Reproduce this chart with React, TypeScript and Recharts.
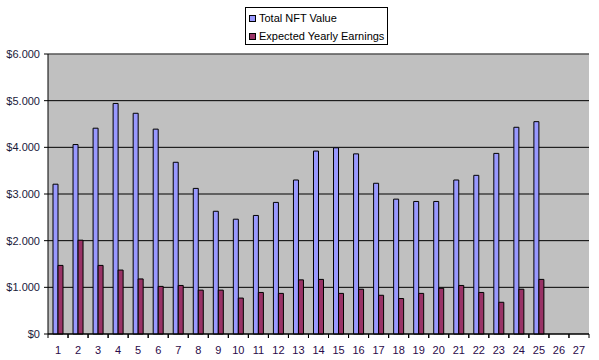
import React from "react";
import {
  BarChart,
  Bar,
  XAxis,
  YAxis,
  CartesianGrid,
  Legend,
  ReferenceLine,
} from "recharts";

const periods = ["1", "2", "3", "4", "5", "6", "7", "8", "9", "10", "11", "12", "13", "14", "15", "16", "17", "18", "19", "20", "21", "22", "23", "24", "25", "26", "27"];
const totalNftValue = [3210, 4060, 4410, 4940, 4730, 4390, 3680, 3120, 2630, 2460, 2540, 2820, 3300, 3920, 3990, 3860, 3230, 2890, 2840, 2840, 3300, 3400, 3870, 4430, 4550, null, null];
const expectedEarnings = [1470, 2010, 1470, 1370, 1180, 1020, 1040, 940, 940, 770, 890, 870, 1160, 1170, 870, 960, 830, 760, 870, 980, 1040, 890, 680, 960, 1170, null, null];
const yTicks = [0, 1000, 2000, 3000, 4000, 5000, 6000];

const data = periods.map((p, i) => ({
  period: p,
  total: totalNftValue[i],
  earnings: expectedEarnings[i],
}));

const W = 599;
const H = 360;
const LEGEND_H = 38;
// legend sits on top, recharts adds its height to the top offset
const M = { top: 54 - LEGEND_H, right: 10, bottom: 0, left: 0 };
const Y_W = 48;
const X_H = 26;
const band = (W - M.left - M.right - Y_W) / periods.length;
const font = "'Liberation Sans', Arial, sans-serif";

const money = (v: number) => (v === 0 ? "$0" : "$" + v.toLocaleString("de-DE"));

function XTick(props: any) {
  const { x, payload } = props;
  const axisY = H - X_H;
  return (
    <g>
      <line x1={x - band / 2} x2={x - band / 2} y1={axisY} y2={axisY + 4} stroke="#000" />
      <line x1={x + band / 2} x2={x + band / 2} y1={axisY} y2={axisY + 4} stroke="#000" />
      <text x={x} y={axisY + 20} textAnchor="middle" fontSize={11} fontFamily={font} fill="#2a0a4a">
        {payload.value}
      </text>
    </g>
  );
}

function LegendBox() {
  const items = [
    { label: "Total NFT Value", color: "#9999FF" },
    { label: "Expected Yearly Earnings", color: "#993366" },
  ];
  return (
    <div
      style={{
        border: "1px solid #000",
        background: "#fff",
        width: 141,
        height: LEGEND_H - 2,
        boxSizing: "content-box",
        fontFamily: font,
        fontSize: 11,
        color: "#000",
      }}
    >
      {items.map((it, i) => (
        <div key={it.label} style={{ display: "flex", alignItems: "center", height: 18, paddingLeft: 3, marginTop: i === 0 ? 1 : 0 }}>
          <span style={{ width: 5, height: 5, border: "1px solid #000", background: it.color, marginRight: 3, display: "inline-block" }} />
          <span>{it.label}</span>
        </div>
      ))}
    </div>
  );
}

export default function App() {
  return (
    <div style={{ position: "absolute", left: 0, top: 0, background: "#fff" }}>
      <BarChart width={W} height={H} data={data} margin={M} barCategoryGap="25%" barGap={0}>
        <CartesianGrid vertical={false} stroke="#000" fill="#C0C0C0" fillOpacity={1} />
        <XAxis
          dataKey="period"
          height={X_H}
          interval={0}
          tickLine={false}
          axisLine={{ stroke: "#000" }}
          tick={<XTick />}
        />
        <YAxis
          width={Y_W}
          domain={[0, 6000]}
          ticks={yTicks}
          tickFormatter={money}
          axisLine={{ stroke: "#000" }}
          tickLine={{ stroke: "#000" }}
          tickSize={4}
          tickMargin={4}
          tick={{ fontSize: 11, fontFamily: font, fill: "#1a1a3a" }}
        />
        <YAxis yAxisId="right" orientation="right" width={0} tick={false} tickLine={false} axisLine={{ stroke: "#808080" }} />
        <ReferenceLine y={6000} stroke="#808080" />
        <Legend
          verticalAlign="top"
          content={<LegendBox />}
          wrapperStyle={{ position: "absolute", left: 245, top: 7, width: "auto" }}
        />
        <Bar dataKey="total" name="Total NFT Value" fill="#9999FF" stroke="#000" strokeWidth={1} isAnimationActive={false} />
        <Bar dataKey="earnings" name="Expected Yearly Earnings" fill="#993366" stroke="#000" strokeWidth={1} isAnimationActive={false} />
      </BarChart>
    </div>
  );
}
